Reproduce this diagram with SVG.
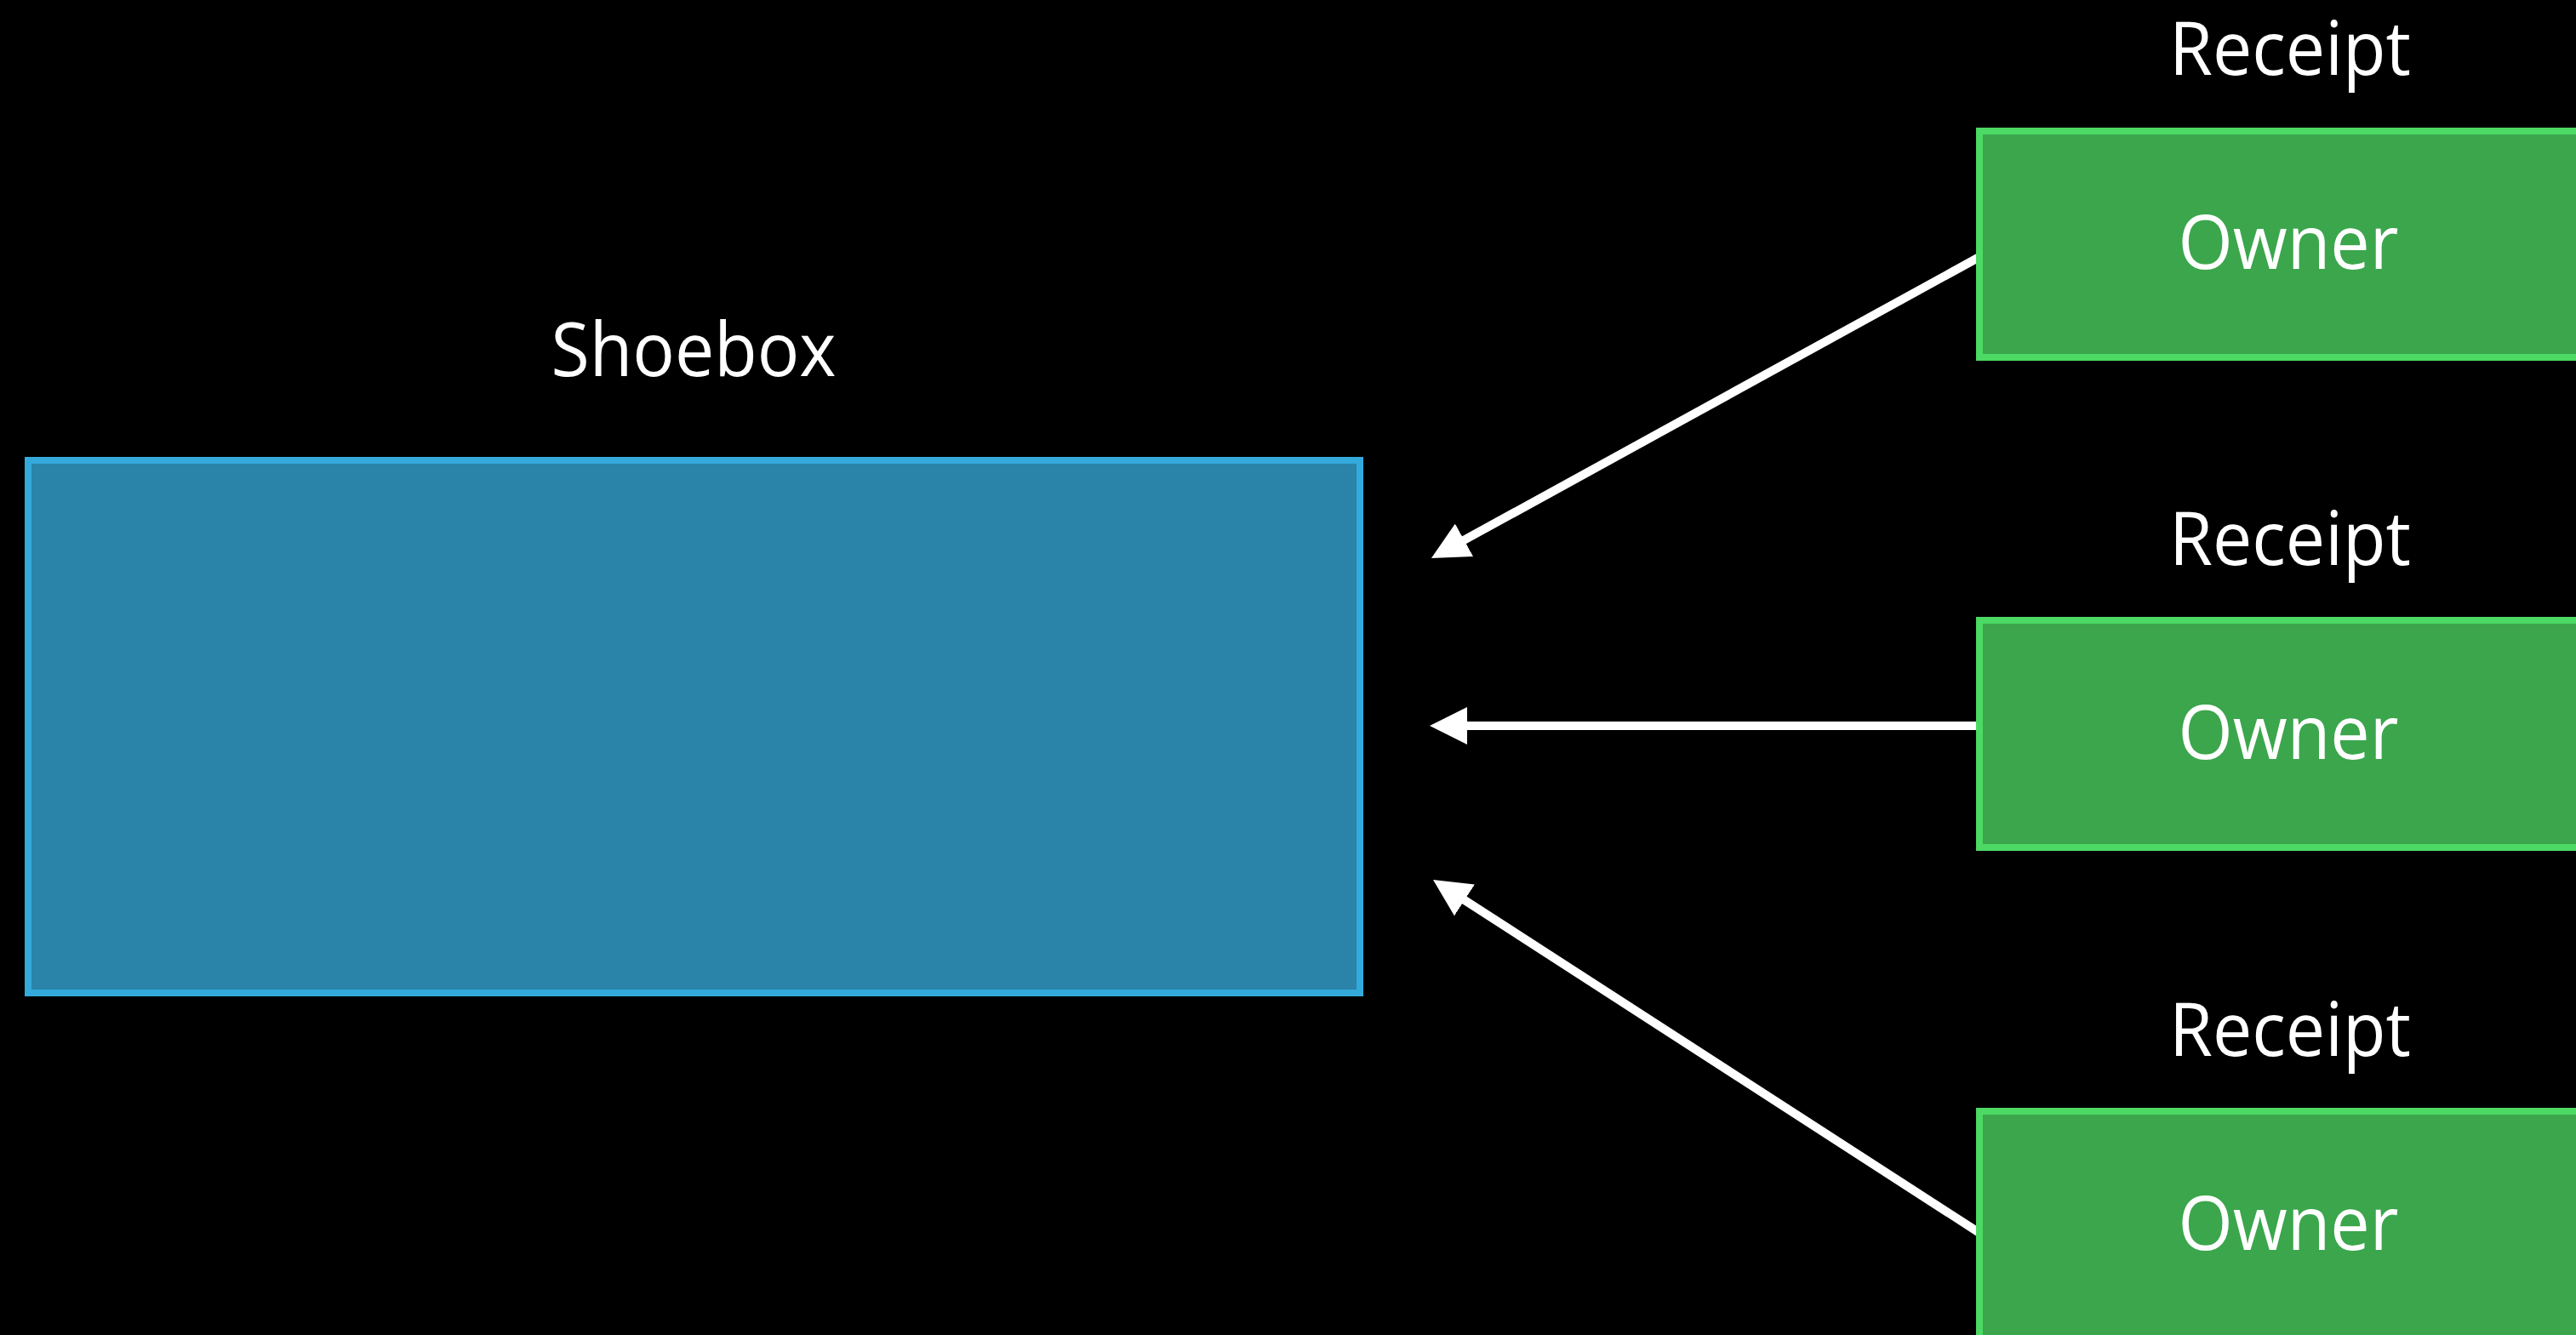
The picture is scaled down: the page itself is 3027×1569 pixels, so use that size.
<svg xmlns="http://www.w3.org/2000/svg" width="3027" height="1569" viewBox="0 0 3027 1569">
  <style>
    .bg { fill: #000000; }
    .shoebox { fill: #2A83A8; stroke: #34AADC; stroke-width: 8; }
    .owner { fill: #3BA64C; stroke: #4CD964; stroke-width: 8; }
    .lbl { font-family: "Open Sans", "Noto Sans", "Liberation Sans", sans-serif; font-size: 88px; fill: #FFFFFF; text-anchor: middle; }
    .conn { stroke: #FFFFFF; stroke-width: 10; fill: none; }
  </style>
  <defs>
    <marker id="arrow" markerUnits="userSpaceOnUse" viewBox="0 0 44 44" refX="4" refY="22" markerWidth="44" markerHeight="44" orient="auto">
      <path d="M0,0 L44,22 L0,44 z" fill="#FFFFFF"/>
    </marker>
  </defs>
  <rect class="bg" x="0" y="0" width="3027" height="1569"/>

  <g id="connectors">
    <line class="conn" x1="2326" y1="302" x2="1717" y2="636.7" marker-end="url(#arrow)"/>
    <line class="conn" x1="2326" y1="853" x2="1720" y2="853" marker-end="url(#arrow)"/>
    <line class="conn" x1="2326" y1="1449" x2="1717.6" y2="1055.7" marker-end="url(#arrow)"/>
  </g>

  <g id="shoebox">
    <text class="lbl" x="815" y="442" textLength="335" lengthAdjust="spacingAndGlyphs">Shoebox</text>
    <rect class="shoebox" x="33" y="541" width="1565" height="626"/>
  </g>

  <g id="receipt1">
    <text class="lbl" x="2691" y="88" textLength="284" lengthAdjust="spacingAndGlyphs">Receipt</text>
    <rect class="owner" x="2326" y="154" width="800" height="266"/>
    <text class="lbl" x="2689" y="316" textLength="259" lengthAdjust="spacingAndGlyphs">Owner</text>
  </g>

  <g id="receipt2">
    <text class="lbl" x="2691" y="664" textLength="284" lengthAdjust="spacingAndGlyphs">Receipt</text>
    <rect class="owner" x="2326" y="729" width="800" height="267"/>
    <text class="lbl" x="2689" y="892" textLength="259" lengthAdjust="spacingAndGlyphs">Owner</text>
  </g>

  <g id="receipt3">
    <text class="lbl" x="2691" y="1241" textLength="284" lengthAdjust="spacingAndGlyphs">Receipt</text>
    <rect class="owner" x="2326" y="1306" width="800" height="300"/>
    <text class="lbl" x="2689" y="1469" textLength="259" lengthAdjust="spacingAndGlyphs">Owner</text>
  </g>
</svg>
